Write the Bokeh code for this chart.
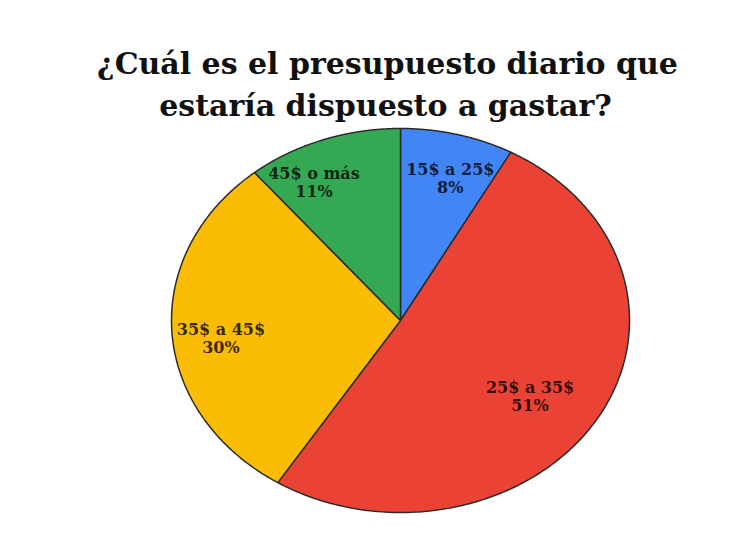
import numpy as np
from bokeh.plotting import figure
from bokeh.models import Range1d, ColumnDataSource
from bokeh.core.properties import value
from bokeh.embed import file_html
from bokeh.resources import INLINE

title_lines = ["¿Cuál es el presupuesto diario que", "estaría dispuesto a gastar?"]
categories = ["15$ a 25$", "25$ a 35$", "35$ a 45$", "45$ o más"]
percents = [8, 51, 30, 11]
colors = ["#4285F4", "#EA4335", "#FBBC04", "#34A853"]

W, H = 739, 520
p = figure(width=W, height=H, output_backend="svg", toolbar_location=None,
           x_range=Range1d(0, W), y_range=Range1d(0, H), min_border=0)
p.axis.visible = False
p.grid.visible = False
p.outline_line_color = None
p.background_fill_color = "white"

cx, cy, rx, ry = 400, 200, 229, 192
label_r = [0.77, 0.69, 0.79, 0.81]
label_dtheta = [-2.0, -4.3, 3.3, 8.0]

frac = np.array(percents, dtype=float) / sum(percents)
ends = np.cumsum(frac)
starts = ends - frac
xs, ys, lx, ly, lt1, lt2 = [], [], [], [], [], []
for i in range(len(categories)):
    a0 = np.pi / 2 - 2 * np.pi * starts[i]
    a1 = np.pi / 2 - 2 * np.pi * ends[i]
    t = np.linspace(a0, a1, 200)
    xs.append([cx] + list(cx + rx * np.cos(t)) + [cx])
    ys.append([cy] + list(cy + ry * np.sin(t)) + [cy])
    am = (a0 + a1) / 2 + np.radians(label_dtheta[i])
    lx.append(cx + rx * label_r[i] * np.cos(am))
    ly.append(cy + ry * label_r[i] * np.sin(am))
    lt1.append(categories[i])
    lt2.append(f"{percents[i]}%")

p.patches(xs, ys, fill_color=colors, line_color="#2b2b2b", line_width=1.5)

src = ColumnDataSource(dict(x=lx, y=ly, t1=lt1, t2=lt2))
common = dict(source=src, text_font=value("DejaVu Serif"), text_font_style="bold",
              text_font_size="16px", text_align="center", text_baseline="middle",
              text_color="black", text_alpha=0.8)
p.text(x="x", y="y", text="t1", y_offset=-9, **common)
p.text(x="x", y="y", text="t2", y_offset=9, **common)

p.text(x=[387, 385], y=[H - 63, H - 105], text=title_lines,
       text_font=value("DejaVu Serif"), text_font_style="bold",
       text_font_size="30px", text_align="center", text_baseline="alphabetic",
       text_color="#111111")

open("out.html", "w").write(file_html(p, INLINE))
